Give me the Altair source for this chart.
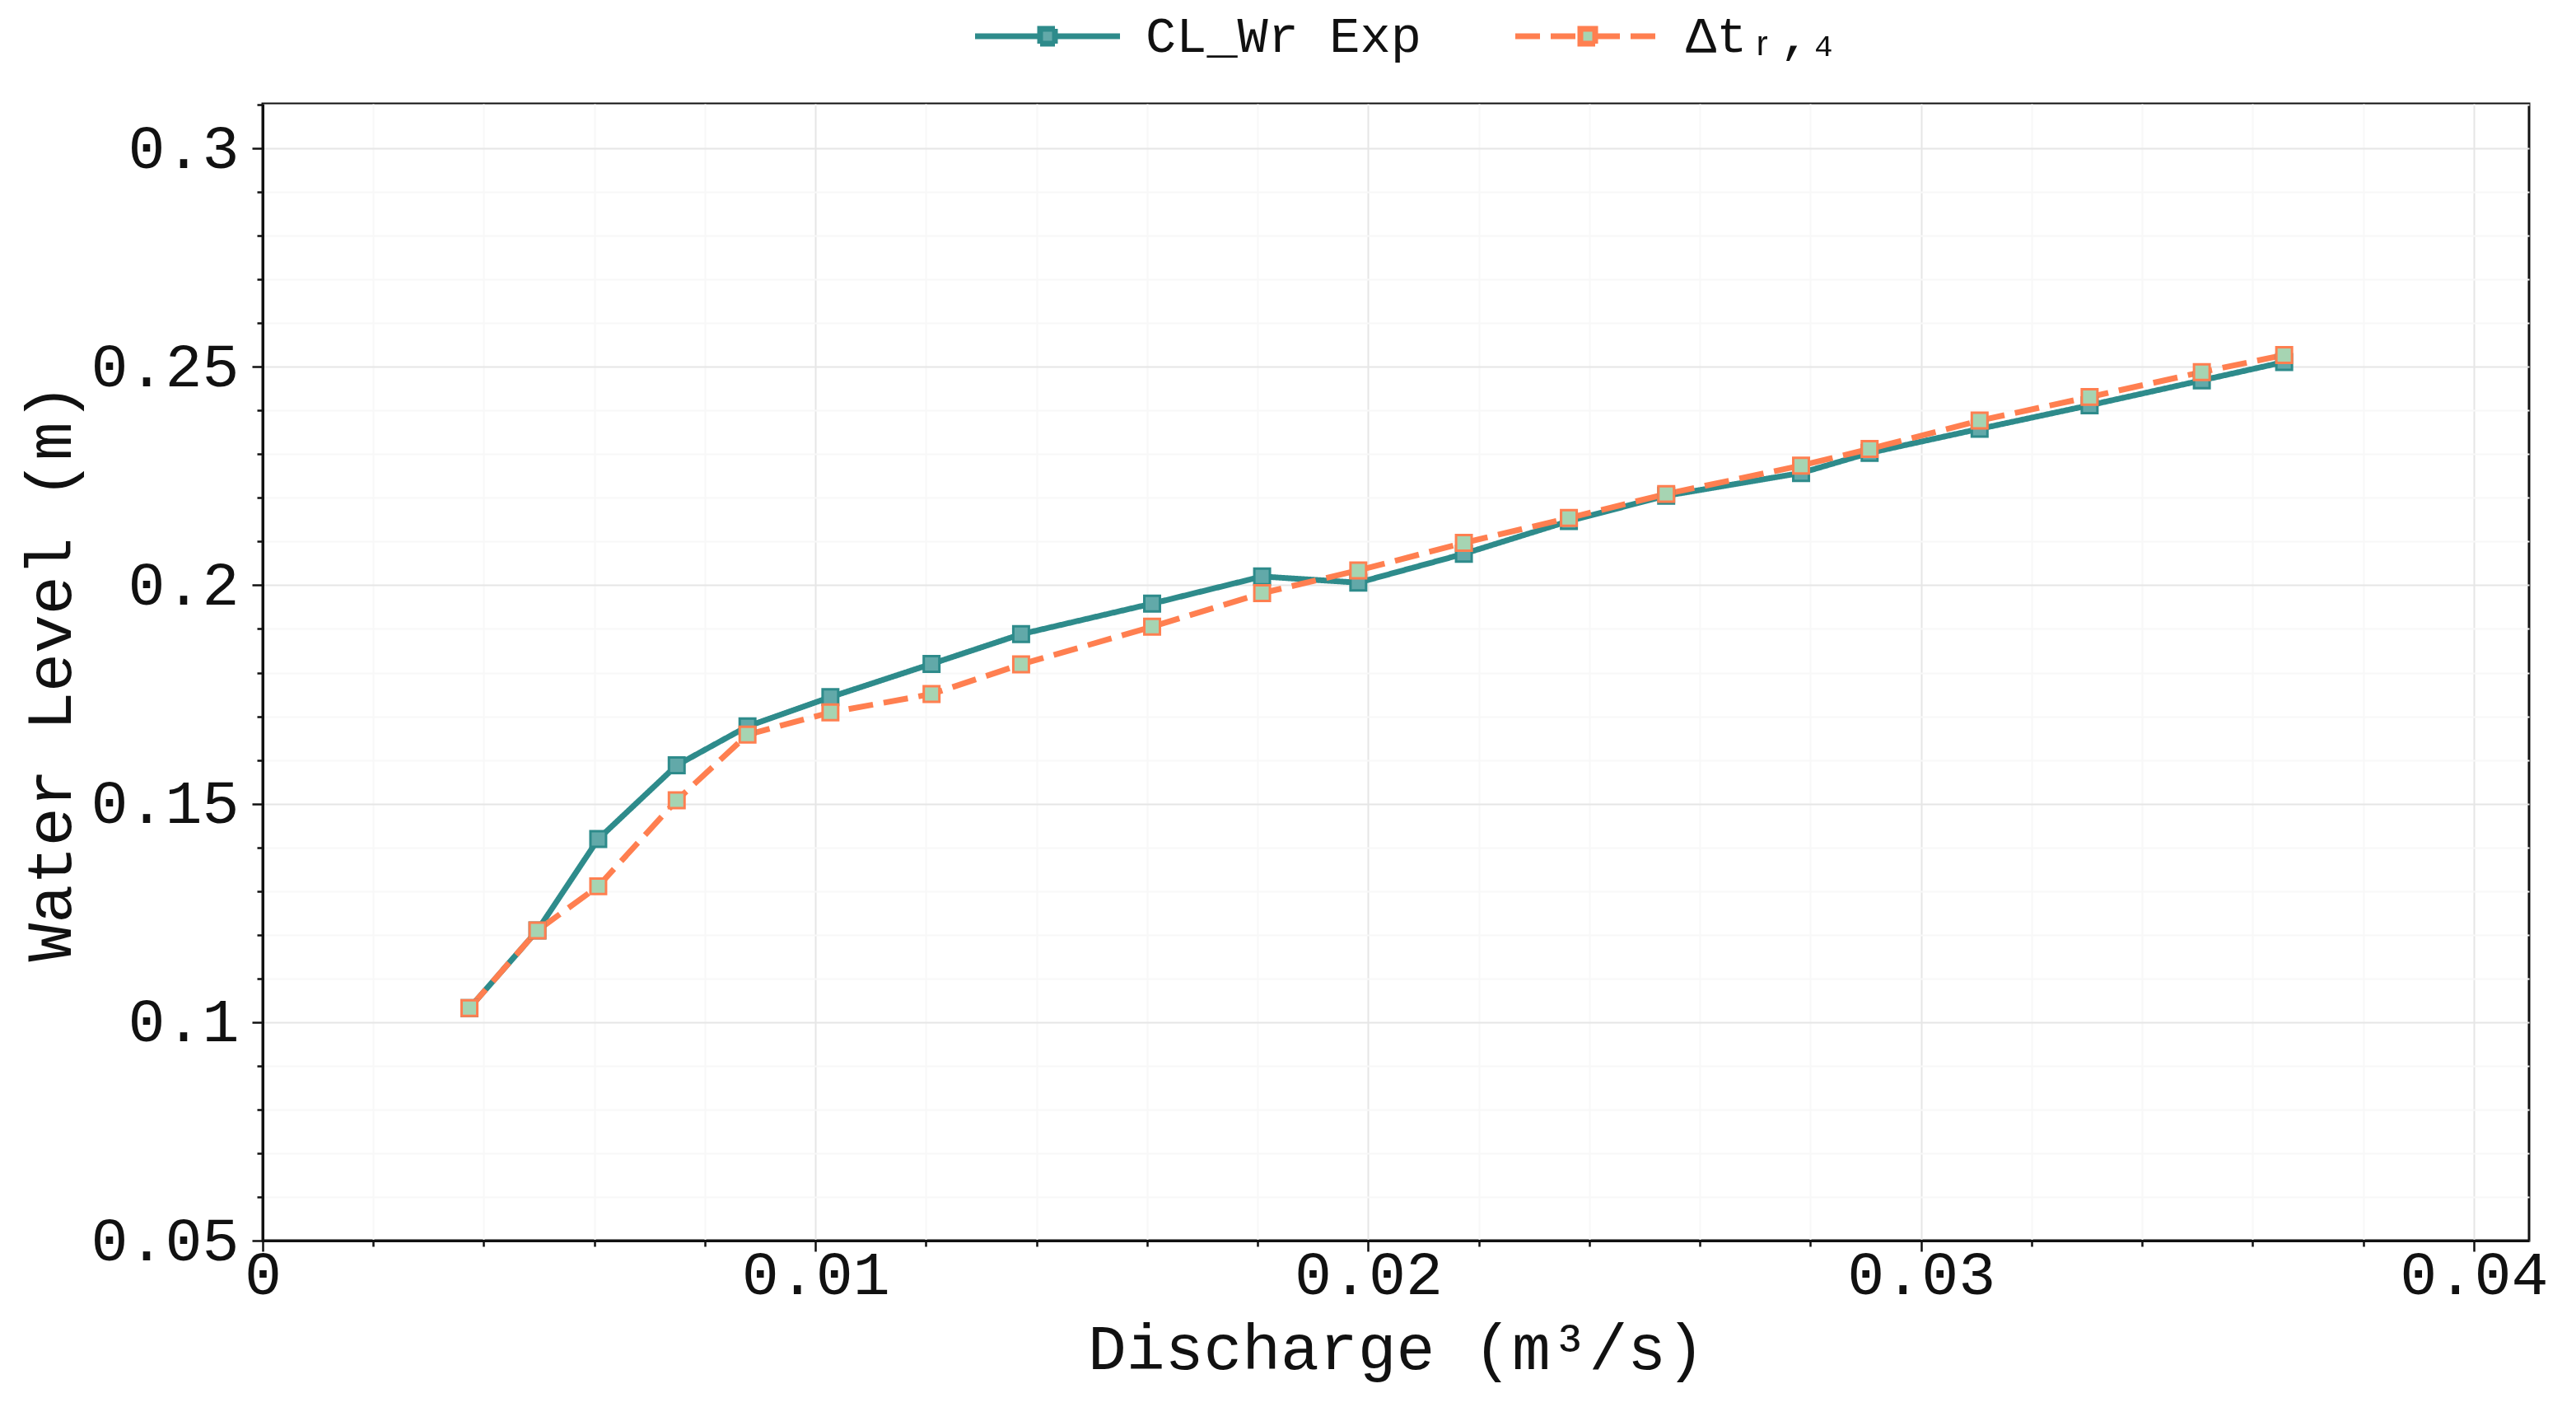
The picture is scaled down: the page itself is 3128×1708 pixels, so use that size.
import altair as alt
import pandas as pd

discharge = [0.00374, 0.00497, 0.00607, 0.00749, 0.00877, 0.01027, 0.01210, 0.01372,
             0.01609, 0.01808, 0.01982, 0.02173, 0.02363, 0.02539, 0.02783, 0.02907,
             0.03106, 0.03305, 0.03508, 0.03657]
level_exp = [0.1032, 0.1210, 0.1419, 0.1588, 0.1677, 0.1744, 0.1820, 0.1888, 0.1958, 0.2020,
             0.2006, 0.2072, 0.2147, 0.2205, 0.2257, 0.2303, 0.2358, 0.2412, 0.2469, 0.2511]
level_dt = [0.1032, 0.1210, 0.1311, 0.1508, 0.1658, 0.1709, 0.1751, 0.1819, 0.1905, 0.1982,
            0.2034, 0.2097, 0.2154, 0.2209, 0.2274, 0.2312, 0.2377, 0.2431, 0.2488, 0.2527]
series_names = ["CL_Wr Exp", "Δtᵣ‚₄"]

line_colors = ["#2e8b8b", "#ff7f50"]
marker_fills = ["#62a9a9", "#a6d4b2"]

rows = []
for name, ys in zip(series_names, [level_exp, level_dt]):
    for q, h in zip(discharge, ys):
        rows.append({"series": name, "Q": q, "H": h})
df = pd.DataFrame(rows)

FONT = "Liberation Mono"
x_vals = [round(i * 0.002, 3) for i in range(0, 21)]
y_vals = [round(0.05 + i * 0.01, 2) for i in range(0, 27)]

x_major = "round(datum.value*1000) % 10 === 0"
y_major = "round(datum.value*1000) % 50 === 0"


def make_axis(title, values, test, is_x):
    return alt.Axis(
        title=title,
        values=values,
        labelExpr=f"{test} ? format(datum.value, '~g') : ''",
        labelFont=FONT, labelFontSize=75, labelColor="#111", labelLimit=0,
        titleFont=FONT, titleFontSize=78, titleFontWeight="normal", titleColor="#111",
        titleLimit=0,
        titlePadding=14 if is_x else 18,
        labelPadding=-8 if is_x else 16,
        tickColor="#111", tickWidth=2.5,
        tickSize={"condition": {"test": test, "value": 13}, "value": 7},
        gridColor={"condition": {"test": test, "value": "#e6e6e6"}, "value": "#f8f8f8"},
        gridWidth=2,
        domainColor="#111", domainWidth=3,
        labelOverlap=False, labelFlush=False,
    )


path = ("M-1,0H2.95M3.85,0H7.8"
        "M2.95,-0.45H3.85V0.45H2.95Z"
        "M2.95,-0.45H3.85M3.85,-0.45V0.45M3.85,0.45H2.95M2.95,0.45V-0.45")

legend = alt.Legend(
    title=None, orient="none", direction="horizontal",
    legendX=854, legendY=-113,
    symbolType=path, symbolSize=1600, symbolStrokeWidth=7, symbolOpacity=1,
    labelFont=FONT, labelFontSize=62, labelColor="#111", labelLimit=0,
    labelOffset=156, columnPadding=100, padding=0,
)

x_enc = alt.X("Q:Q", scale=alt.Scale(domain=[0, 0.041], nice=False, zero=False),
              axis=make_axis("Discharge (m³/s)", x_vals, x_major, True))
y_enc = alt.Y("H:Q", scale=alt.Scale(domain=[0.05, 0.3102], nice=False, zero=False),
              axis=make_axis("Water Level (m)", y_vals, y_major, False))

stroke_scale = alt.Scale(domain=series_names, range=line_colors)
dash_scale = alt.Scale(domain=series_names, range=[[1, 0], [30, 13]])
fill_scale = alt.Scale(domain=series_names, range=marker_fills)

lines = alt.Chart(df).mark_line(strokeWidth=7).encode(
    x=x_enc, y=y_enc,
    stroke=alt.Stroke("series:N", scale=stroke_scale, legend=legend, sort=series_names),
    strokeDash=alt.StrokeDash("series:N", scale=dash_scale, legend=legend, sort=series_names),
    detail="series:N",
)

points = alt.Chart(df).mark_point(shape="square", filled=True, size=360, strokeWidth=3,
                                  opacity=1, fillOpacity=1).encode(
    x=x_enc, y=y_enc,
    stroke=alt.Stroke("series:N", scale=stroke_scale, legend=legend, sort=series_names),
    fill=alt.Fill("series:N", scale=fill_scale, legend=legend, sort=series_names),
)

chart = alt.layer(lines, points).properties(
    width=2752, height=1380,
    padding={"left": 15, "top": 5, "right": 5, "bottom": 12},
    background="white",
).configure_view(stroke="#111", strokeWidth=3)

chart.save("out.html", embed_options={"renderer": "svg", "actions": False})
